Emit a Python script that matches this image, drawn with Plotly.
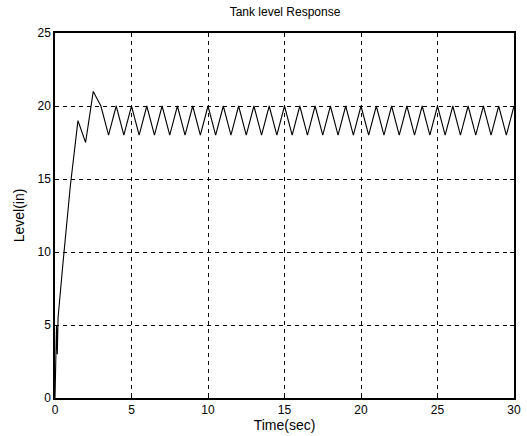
import plotly.graph_objects as go

time_sec = [0, 0.1, 0.15, 0.2, 0.5, 1.0, 1.5, 2.0, 2.5,
            3.0, 3.5, 4.0, 4.5, 5.0, 5.5, 6.0, 6.5, 7.0, 7.5, 8.0, 8.5, 9.0, 9.5,
            10.0, 10.5, 11.0, 11.5, 12.0, 12.5, 13.0, 13.5, 14.0, 14.5, 15.0, 15.5,
            16.0, 16.5, 17.0, 17.5, 18.0, 18.5, 19.0, 19.5, 20.0, 20.5, 21.0, 21.5,
            22.0, 22.5, 23.0, 23.5, 24.0, 24.5, 25.0, 25.5, 26.0, 26.5, 27.0, 27.5,
            28.0, 28.5, 29.0, 29.5, 30.0]
level_in = [0, 5.0, 3.0, 5.5, 9.0, 14.5, 19.0, 17.5, 21.0,
            20, 18, 20, 18, 20, 18, 20, 18, 20, 18, 20, 18, 20, 18,
            20, 18, 20, 18, 20, 18, 20, 18, 20, 18, 20, 18,
            20, 18, 20, 18, 20, 18, 20, 18, 20, 18, 20, 18,
            20, 18, 20, 18, 20, 18, 20, 18, 20, 18, 20, 18,
            20, 18, 20, 18, 20]

x_ticks = [0, 5, 10, 15, 20, 25, 30]
y_ticks = [0, 5, 10, 15, 20, 25]

fig = go.Figure()
fig.add_trace(go.Scatter(x=time_sec, y=level_in, mode="lines",
                         line=dict(color="black", width=1.1), showlegend=False,
                         cliponaxis=False))

font = dict(family="Arial, Liberation Sans, sans-serif", size=12, color="black")
axis_common = dict(showline=True, linecolor="black", linewidth=1.5, mirror="ticks",
                   ticks="inside", ticklen=4, tickcolor="black",
                   showgrid=True, gridcolor="black", griddash="4px,4px", gridwidth=1,
                   zeroline=False, tickfont=font, automargin=False)

fig.update_layout(
    width=527, height=436,
    margin=dict(l=55, r=13, t=33, b=38),
    paper_bgcolor="white", plot_bgcolor="white",
    font=font,
    title=dict(text="Tank level Response", x=285/527, xanchor="center",
               y=1 - 12/436, yanchor="middle",
               font=dict(family="Arial, Liberation Sans, sans-serif", size=12, color="black")),
    xaxis=dict(range=[0, 30], tickvals=x_ticks, title=dict(text="Time(sec)", standoff=0), **axis_common),
    yaxis=dict(range=[0, 25], tickvals=y_ticks, title=dict(text="Level(in)", standoff=10), **axis_common),
)

fig.write_html("out.html", config={"displayModeBar": False},
               post_script="document.body.style.margin='0';document.body.style.overflow='hidden';")
